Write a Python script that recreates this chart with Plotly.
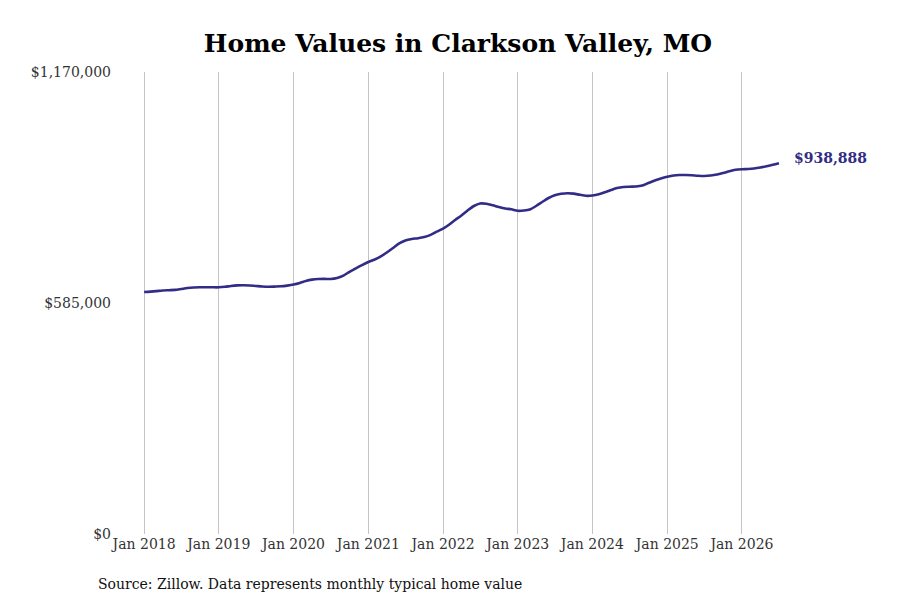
import pandas as pd
import plotly.graph_objects as go

# Monthly typical home value, Jan 2018 - Jul 2026
months = pd.date_range("2018-01-01", periods=103, freq="MS")
values = [
    612900, 613870, 615140, 616660, 617420, 618180, 620460, 622990, 624260, 624760, 625010, 624760,
    624760, 626030, 628050, 629570, 630080, 629320, 628050, 626790, 626030, 626530, 627290, 629070,
    631600, 635650, 640710, 644260, 645780, 646030, 645780, 648300, 654500, 664000, 672800, 681000,
    688800, 695200, 702500, 712900, 724300, 735700, 743300, 747100, 749000, 752000, 757500, 765570,
    773410, 783800, 795200, 806600, 819260, 830650, 836980, 836220, 832430, 828120, 824320, 822300,
    818500, 819260, 821790, 830650, 840780, 850910, 858000, 861550, 863070, 862060, 859020, 856480,
    857240, 860280, 865350, 871170, 876240, 878770, 879530, 880030, 882560, 888900, 895230, 900290,
    904600, 907900, 909160, 909160, 908400, 907130, 906620, 907900, 910420, 914220, 918780, 922330,
    923850, 924350, 925620, 928150, 931190, 934990, 938888,
]

y_ticks = [0, 585000, 1170000]
y_tick_labels = ["$0", "$585,000", "$1,170,000"]
x_ticks = pd.date_range("2018-01-01", periods=9, freq="YS")
x_tick_labels = [f"Jan {d.year}" for d in x_ticks]

LINE_COLOR = "#312c85"
FONT = "DejaVu Serif"

fig = go.Figure()

fig.add_trace(go.Scatter(
    x=months, y=values,
    mode="lines",
    line=dict(color=LINE_COLOR, width=2.6, shape="spline", smoothing=0.8),
    hoverinfo="skip",
))

# label for the latest value
fig.add_annotation(
    x=months[-1], y=values[-1],
    text=f"<b>${values[-1]:,}</b>",
    showarrow=False,
    xanchor="left", yanchor="middle",
    xshift=13, yshift=5,
    font=dict(family=FONT, size=14, color=LINE_COLOR),
)

fig.add_annotation(
    x=0, y=0, xref="paper", yref="paper",
    text="Source: Zillow. Data represents monthly typical home value",
    showarrow=False,
    xanchor="left", yanchor="top",
    xshift=-16, yshift=-40,
    font=dict(family=FONT, size=14, color="#111111"),
)

fig.update_layout(
    width=900, height=600,
    paper_bgcolor="white", plot_bgcolor="white",
    showlegend=False,
    title=dict(
        text="<b>Home Values in Clarkson Valley, MO</b>",
        x=0.5, xanchor="center", y=0.942, yanchor="middle",
        font=dict(family=FONT, size=25, color="black"),
    ),
    font=dict(family=FONT, size=14, color="#333333"),
    margin=dict(l=104, r=127, t=64, b=74),
    xaxis=dict(
        range=["2017-07-28", "2026-07-11"],
        tickvals=x_ticks, ticktext=x_tick_labels,
        showgrid=True, gridcolor="#c4c4c4", gridwidth=1,
        zeroline=False, showline=False, ticks="",
        tickfont=dict(family=FONT, size=14, color="#333333"),
    ),
    yaxis=dict(
        range=[0, 1170000],
        tickvals=y_ticks, ticktext=y_tick_labels,
        showgrid=False, zeroline=False, showline=False, ticks="",
        tickfont=dict(family=FONT, size=14, color="#333333"),
    ),
)

fig.write_html("out.html")
